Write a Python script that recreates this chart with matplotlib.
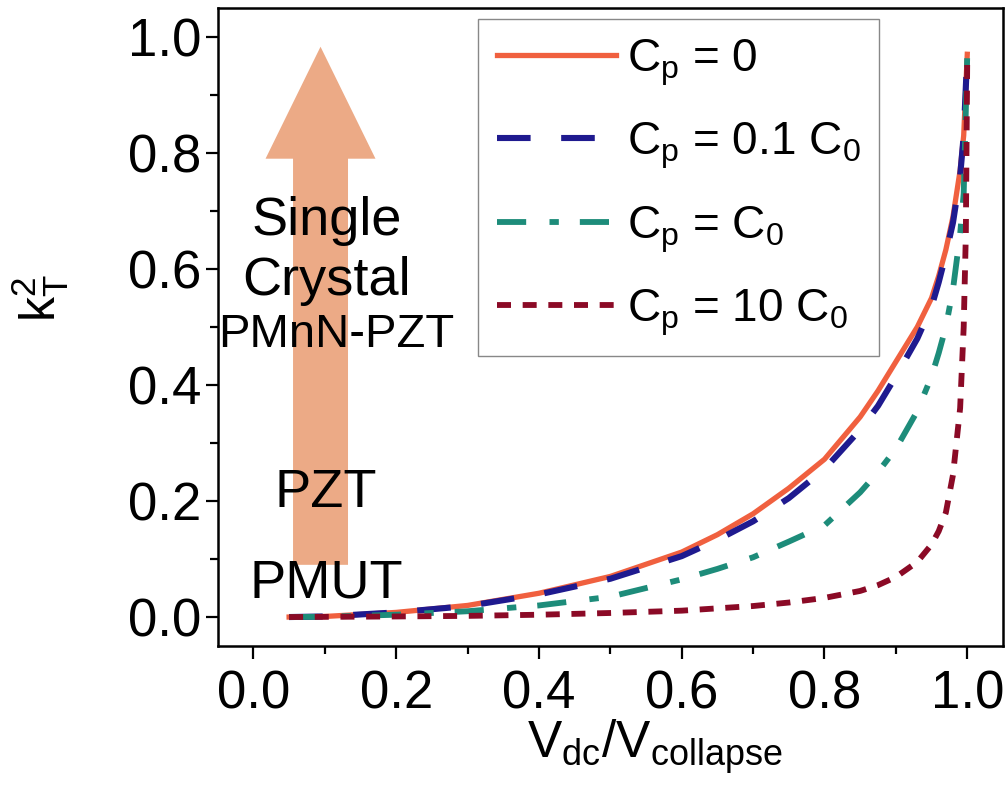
import numpy as np
import matplotlib
matplotlib.use("Agg")
import matplotlib.pyplot as plt
from matplotlib.patches import FancyArrow
from matplotlib.ticker import MultipleLocator, FormatStrFormatter

plt.rcParams['font.family'] = ['Liberation Sans', 'DejaVu Sans']
plt.rcParams['mathtext.fontset'] = 'custom'
plt.rcParams['mathtext.rm'] = 'Liberation Sans'
plt.rcParams['mathtext.it'] = 'Liberation Sans:italic'

# data
v_ratio = [0.05, 0.1, 0.2, 0.3, 0.4, 0.5, 0.6, 0.65, 0.7, 0.75, 0.8, 0.85,
           0.875, 0.9, 0.93, 0.95, 0.96, 0.97, 0.98, 0.99, 0.995, 1.0]
k_cp0 = [0.0, 0.001, 0.008, 0.02, 0.041, 0.070, 0.112, 0.142, 0.178, 0.222,
         0.272, 0.345, 0.39, 0.44, 0.50, 0.55, 0.588, 0.633, 0.69, 0.77, 0.83, 0.97]
k_cp01 = [0.0, 0.001, 0.008, 0.019, 0.039, 0.066, 0.105, 0.133, 0.165, 0.205,
          0.255, 0.323, 0.364, 0.415, 0.48, 0.535, 0.577, 0.625, 0.68, 0.76, 0.83, 0.97]
k_cp1 = [0.0, 0.0005, 0.004, 0.010, 0.02, 0.035, 0.065, 0.083, 0.103, 0.13,
         0.158, 0.215, 0.25, 0.29, 0.355, 0.415, 0.455, 0.50, 0.565, 0.66, 0.73, 0.97]

v_ratio10 = [0.05, 0.2, 0.3, 0.4, 0.5, 0.6, 0.7, 0.75, 0.8, 0.85, 0.875, 0.9,
             0.93, 0.95, 0.96, 0.97, 0.98, 0.99, 0.995, 0.998, 1.0]
k_cp10 = [0.0, 0.001, 0.002, 0.004, 0.007, 0.011, 0.019, 0.025, 0.033, 0.045,
          0.055, 0.069, 0.095, 0.125, 0.148, 0.18, 0.245, 0.36, 0.50, 0.66, 0.97]

labels = [r'C$_\mathregular{p}$ = 0',
          r'C$_\mathregular{p}$ = 0.1 C$_\mathregular{0}$',
          r'C$_\mathregular{p}$ = C$_\mathregular{0}$',
          r'C$_\mathregular{p}$ = 10 C$_\mathregular{0}$']

fig = plt.figure(figsize=(10.08, 7.85), dpi=100)
ax = fig.add_axes([0.216, 0.177, 0.779, 0.813])

# arrow in the background
arr = FancyArrow(0.094, 0.09, 0, 0.893, width=0.077, head_width=0.154,
                 head_length=0.193, length_includes_head=True,
                 color='#ECAA86', lw=0, zorder=1)
ax.add_patch(arr)

ax.plot(v_ratio, k_cp0, color='#F0603F', lw=3.8, label=labels[0], zorder=3)
ax.plot(v_ratio, k_cp01, color='#1F1A8F', lw=4.4, linestyle=(0, (5.5, 5)),
        label=labels[1], zorder=3)
ax.plot(v_ratio, k_cp1, color='#1D8C7A', lw=4.2, linestyle=(0, (5, 4, 1.6, 3.6)),
        label=labels[2], zorder=3)
ax.plot(v_ratio10, k_cp10, color='#8B0A26', lw=4.2, linestyle=(0, (2.4, 2)),
        label=labels[3], zorder=3)

# labels over the arrow
ax.text(0.102, 0.659, 'Single', fontsize=39, ha='center', va='baseline', zorder=5)
ax.text(0.102, 0.555, 'Crystal', fontsize=39, ha='center', va='baseline', zorder=5)
ax.text(0.116, 0.466, 'PMnN-PZT', fontsize=34, ha='center', va='baseline', zorder=5)
ax.text(0.102, 0.19, 'PZT', fontsize=39, ha='center', va='baseline', zorder=5)
ax.text(0.102, 0.034, 'PMUT', fontsize=39, ha='center', va='baseline', zorder=5)

ax.set_xlim(-0.05, 1.05)
ax.set_ylim(-0.05, 1.05)
ax.xaxis.set_major_locator(MultipleLocator(0.2))
ax.xaxis.set_minor_locator(MultipleLocator(0.1))
ax.yaxis.set_major_locator(MultipleLocator(0.2))
ax.yaxis.set_minor_locator(MultipleLocator(0.1))
ax.xaxis.set_major_formatter(FormatStrFormatter('%.1f'))
ax.yaxis.set_major_formatter(FormatStrFormatter('%.1f'))
ax.tick_params(which='major', direction='out', length=9, width=1.6,
               labelsize=38, pad=8)
ax.tick_params(axis='y', which='major', pad=3)
ax.tick_params(which='minor', direction='out', length=5.5, width=1.6)
for s in ax.spines.values():
    s.set_linewidth(1.8)

ax.set_xlabel(r'V$_\mathregular{dc}$/V$_\mathregular{collapse}$', fontsize=37)
ax.xaxis.set_label_coords(0.557, -0.112)
fig.text(0.040, 0.62, r'k$_\mathregular{T}^\mathregular{2}$', fontsize=36,
         rotation=90, ha='center', va='center')

leg = ax.legend(loc='upper left', bbox_to_anchor=(0.332, 0.983), fontsize=33,
                handlelength=2.6, handletextpad=0.25, labelspacing=0.72,
                borderpad=0.4, borderaxespad=0, fancybox=False,
                framealpha=1, edgecolor='#888888')
leg.get_frame().set_linewidth(1.0)

plt.savefig('out.png', dpi=100)
